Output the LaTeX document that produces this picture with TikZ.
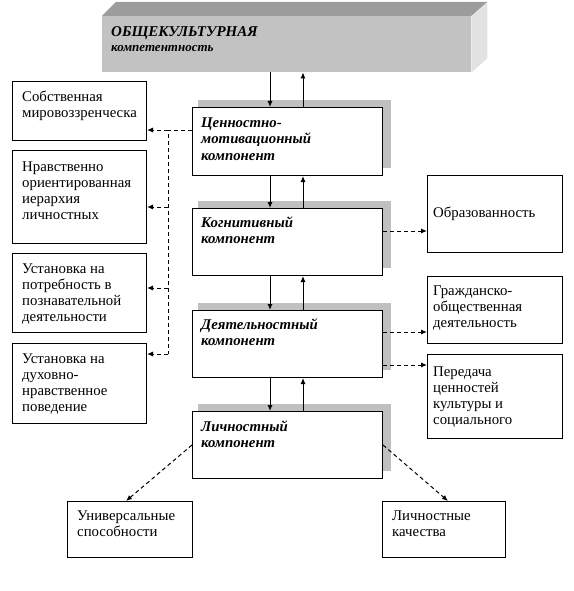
\documentclass[tikz,border=0pt]{standalone}
\usepackage{fontspec}
\setmainfont{Liberation Serif}
\usetikzlibrary{arrows.meta,calc,backgrounds}
\newcommand\mystrut{\rule{0pt}{14pt}}
\definecolor{shadowc}{HTML}{C0C0C0}
\definecolor{bannerfront}{HTML}{C2C2C2}
\definecolor{bannertop}{HTML}{9C9C9C}
\definecolor{bannerside}{HTML}{E2E2E2}
\begin{document}
\begin{tikzpicture}[x=1pt,y=-1pt,
  box/.style={draw,line width=1pt,fill=white,anchor=north west,inner sep=0},
  txt/.style={inner sep=0,anchor=north west,align=left,font=\fontsize{14.8}{16}\selectfont},
  ctxt/.style={inner sep=0,anchor=north west,align=left,font=\bfseries\itshape\fontsize{14.8}{16.5}\selectfont},
  arr/.style={line width=1pt,-{Latex[length=6pt,width=5pt]}},
  dsh/.style={line width=1pt,dash pattern=on 4pt off 3pt,-{Latex[length=6pt,width=5pt]}},
  dshl/.style={line width=1pt,dash pattern=on 4pt off 3pt}]
\useasboundingbox (0,0) rectangle (573,591);

% banner
\node[fill=bannerfront,anchor=north west,inner sep=0,minimum width=369,minimum height=56] (top) at (102,16) {};
\fill[bannertop] (top.north west) -- ++(14,-14) -- ($(top.north east)+(16,-14)$) -- (top.north east) -- cycle;
\fill[bannerside] (top.north east) -- ++(16,-14) -- ($(top.south east)+(16,-14)$) -- (top.south east) -- cycle;
\node[inner sep=0,anchor=base west,font=\bfseries\itshape\fontsize{15}{16}\selectfont] (t1) at ($(top.north west)+(9,21)$) {ОБЩЕКУЛЬТУРНАЯ};
\node[inner sep=0,anchor=base west,font=\bfseries\itshape\fontsize{13}{14}\selectfont] (t2) at ($(top.north west)+(9,36)$) {компетентность};

% central boxes
\node[box,minimum width=190,minimum height=68] (A) at (192,107) {};
\node[box,minimum width=190,minimum height=67] (B) at (192,208) {};
\node[box,minimum width=190,minimum height=67] (C) at (192,310) {};
\node[box,minimum width=190,minimum height=67] (D) at (192,411) {};
\begin{scope}[on background layer]
\foreach \n in {A,B,C,D}
  \fill[shadowc] ($(\n.north west)+(6,-7)$) rectangle ($(\n.south east)+(8,-8)$);
\end{scope}
\node[ctxt] at ($(A.north west)+(9,6)$) {\mystrut Ценностно-\\мотивационный\\компонент};
\node[ctxt] at ($(B.north west)+(9,5)$) {\mystrut Когнитивный\\компонент};
\node[ctxt] at ($(C.north west)+(9,5)$) {\mystrut Деятельностный\\компонент};
\node[ctxt] at ($(D.north west)+(9,6)$) {\mystrut Личностный\\компонент};

% left boxes
\node[box,minimum width=134,minimum height=59] (L1) at (12,81) {};
\node[box,minimum width=134,minimum height=93] (L2) at (12,150) {};
\node[box,minimum width=134,minimum height=79] (L3) at (12,253) {};
\node[box,minimum width=134,minimum height=80] (L4) at (12,343) {};
\node[txt] at ($(L1.north west)+(10,6)$) {\mystrut Собственная\\мировоззренческа};
\node[txt] at ($(L2.north west)+(10,7)$) {\mystrut Нравственно\\ориентированная\\иерархия\\личностных};
\node[txt] at ($(L3.north west)+(10,6)$) {\mystrut Установка на\\потребность в\\познавательной\\деятельности};
\node[txt] at ($(L4.north west)+(10,6)$) {\mystrut Установка на\\духовно-\\нравственное\\поведение};

% right boxes
\node[box,minimum width=135,minimum height=77] (R1) at (427,175) {};
\node[box,minimum width=135,minimum height=67] (R2) at (427,276) {};
\node[box,minimum width=135,minimum height=84] (R3) at (427,354) {};
\node[txt] at ($(R1.north west)+(6,28)$) {\mystrut Образованность};
\node[txt] at ($(R2.north west)+(6,5)$) {\mystrut Гражданско-\\общественная\\деятельность};
\node[txt] at ($(R3.north west)+(6,8)$) {\mystrut Передача\\ценностей\\культуры и\\социального};

% bottom boxes
\node[box,minimum width=125,minimum height=56] (B1) at (67,501) {};
\node[box,minimum width=123,minimum height=56] (B2) at (382,501) {};
\node[txt] at ($(B1.north west)+(10,5)$) {\mystrut Универсальные\\способности};
\node[txt] at ($(B2.north west)+(10,5)$) {\mystrut Личностные\\качества};

% vertical solid arrows
\coordinate (xd) at (270,0);
\coordinate (xu) at (303,0);
\draw[arr] (top.south -| xd) -- (A.north -| xd);
\draw[arr] (A.north -| xu) -- (top.south -| xu);
\draw[arr] (A.south -| xd) -- (B.north -| xd);
\draw[arr] (B.north -| xu) -- (A.south -| xu);
\draw[arr] (B.south -| xd) -- (C.north -| xd);
\draw[arr] (C.north -| xu) -- (B.south -| xu);
\draw[arr] (C.south -| xd) -- (D.north -| xd);
\draw[arr] (D.north -| xu) -- (C.south -| xu);

% left dashed tree
\coordinate (j1) at (168,130);
\coordinate (j2) at (168,207);
\coordinate (j3) at (168,288);
\coordinate (j4) at (168,354);
\draw[dshl] (A.west |- j1) -- (j1) -- (j4);
\draw[dsh] (j1) -- (j1 -| L1.east);
\draw[dsh] (j2) -- (j2 -| L2.east);
\draw[dsh] (j3) -- (j3 -| L3.east);
\draw[dsh] (j4) -- (j4 -| L4.east);

% right dashed arrows
\coordinate (r1) at (0,231);
\coordinate (r2) at (0,332);
\coordinate (r3) at (0,365);
\draw[dsh] (B.east |- r1) -- (R1.west |- r1);
\draw[dsh] (C.east |- r2) -- (R2.west |- r2);
\draw[dsh] (C.east |- r3) -- (R3.west |- r3);

% bottom dashed arrows
\draw[dsh] ($(D.north west)+(0,34)$) -- ($(B1.north)+(-4,0)$);
\draw[dsh] ($(D.north east)+(0,34)$) -- ($(B2.north)+(4,0)$);
\end{tikzpicture}
\end{document}
